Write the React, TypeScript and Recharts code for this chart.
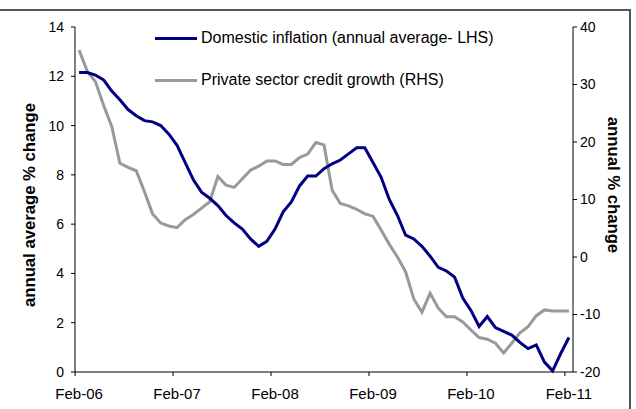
import React from "react";
import { Line, LineChart, XAxis, YAxis } from "recharts";

const tickLabels = ["Feb-06", "Feb-07", "Feb-08", "Feb-09", "Feb-10", "Feb-11"];
const tickIndex = [0, 12, 24, 36, 48, 60];

// Domestic inflation, annual average (LHS)
const inflation = [
  12.15, 12.15, 12.05, 11.85, 11.4, 11.05, 10.65, 10.4, 10.2, 10.15, 10.0, 9.65,
  9.2, 8.5, 7.8, 7.3, 7.05, 6.75, 6.35, 6.05, 5.8, 5.4, 5.1, 5.3,
  5.8, 6.5, 6.9, 7.55, 7.95, 7.95, 8.25, 8.45, 8.6, 8.85, 9.1, 9.1,
  8.5, 7.9, 7.0, 6.35, 5.55, 5.4, 5.1, 4.7, 4.25, 4.1, 3.85, 3.0,
  2.5, 1.85, 2.25, 1.8, 1.65, 1.5, 1.2, 0.95, 1.1, 0.4, 0.05, 0.75,
  1.4,
];

// Private sector credit growth (RHS)
const creditGrowth = [
  36, 32.3, 30.5, 26.4, 22.7, 16.3, 15.6, 15.0, 11.4, 7.5, 5.9, 5.4,
  5.1, 6.5, 7.4, 8.5, 9.6, 14.0, 12.5, 12.1, 13.6, 15.1, 15.8, 16.7,
  16.7, 16.1, 16.1, 17.3, 17.9, 19.9, 19.5, 11.6, 9.3, 8.9, 8.3, 7.5,
  7.1, 4.7, 2.2, 0, -2.6, -7.3, -9.6, -6.3, -8.9, -10.4, -10.4, -11.3,
  -12.7, -14.0, -14.3, -15.0, -16.7, -15.0, -13.2, -12.1, -10.2, -9.2, -9.4, -9.4,
  -9.4,
];

const data = inflation.map((v, i) => ({ i, inflation: v, credit: creditGrowth[i] }));

const BLUE = "#000080";
const GREY = "#999999";
const FONT = "'Liberation Sans', Arial, sans-serif";

function MonthTick(props: any) {
  const { x, y, payload } = props;
  const label = tickLabels[tickIndex.indexOf(payload.value)];
  // excel puts the tick mark on the category boundary, label on the centre
  return (
    <g>
      <line x1={x - 4} x2={x - 4} y1={y - 4} y2={y} stroke="#000" />
      <text x={x} y={y + 23} textAnchor="middle" fontSize={15} fill="#000" fontFamily={FONT}>
        {label}
      </text>
    </g>
  );
}

export default function App() {
  return (
    <div
      style={{
        position: "absolute",
        left: 0,
        top: 0,
        width: 636,
        height: 409,
        background: "#fff",
        fontFamily: FONT,
        overflow: "hidden",
      }}
    >
      <div
        style={{
          position: "absolute",
          left: -4,
          top: 9,
          width: 635,
          height: 420,
          borderTop: "2px solid #555",
          borderRight: "2px solid #555",
          boxSizing: "border-box",
        }}
      />
      <LineChart width={636} height={409} data={data} margin={{ top: 27, right: 0, bottom: 0, left: 0 }}>
        <XAxis
          type="number"
          dataKey="i"
          domain={[-0.5, 60.5]}
          ticks={tickIndex}
          tick={<MonthTick />}
          tickLine={false}
          tickSize={4}
          tickMargin={0}
          height={37}
          axisLine={{ stroke: "#000" }}
          interval={0}
        />
        <YAxis
          yAxisId="left"
          domain={[0, 14]}
          ticks={[0, 2, 4, 6, 8, 10, 12, 14]}
          width={75}
          tickSize={4}
          tickMargin={7}
          axisLine={{ stroke: "#000" }}
          tickLine={{ stroke: "#000" }}
          tick={{ fontSize: 14, fill: "#000", fontFamily: FONT }}
          interval={0}
        />
        <YAxis
          yAxisId="right"
          orientation="right"
          domain={[-20, 40]}
          ticks={[-20, -10, 0, 10, 20, 30, 40]}
          width={63}
          tickSize={4}
          tickMargin={3}
          axisLine={{ stroke: "#000" }}
          tickLine={{ stroke: "#000" }}
          tick={{ fontSize: 14, fill: "#000", fontFamily: FONT, textAnchor: "start" }}
          interval={0}
        />
        <Line
          yAxisId="right"
          type="linear"
          dataKey="credit"
          stroke={GREY}
          strokeWidth={3}
          dot={false}
          isAnimationActive={false}
        />
        <Line
          yAxisId="left"
          type="linear"
          dataKey="inflation"
          stroke={BLUE}
          strokeWidth={3}
          dot={false}
          isAnimationActive={false}
        />
      </LineChart>

      {[
        { label: "Domestic inflation (annual average- LHS)", color: BLUE, y: 38 },
        { label: "Private sector credit growth (RHS)", color: GREY, y: 80 },
      ].map((item) => (
        <div
          key={item.label}
          style={{ position: "absolute", left: 155, top: item.y - 10, height: 20, display: "flex", alignItems: "center" }}
        >
          <div style={{ width: 42, height: 3, background: item.color, marginRight: 4 }} />
          <span style={{ fontSize: 16, color: "#000", whiteSpace: "nowrap" }}>{item.label}</span>
        </div>
      ))}

      <div
        style={{
          position: "absolute",
          left: 30,
          top: 205,
          transform: "translate(-50%, -50%) rotate(-90deg)",
          fontSize: 16.7,
          fontWeight: "bold",
          whiteSpace: "nowrap",
        }}
      >
        annual average % change
      </div>
      <div
        style={{
          position: "absolute",
          left: 613,
          top: 185,
          transform: "translate(-50%, -50%) rotate(90deg)",
          fontSize: 16.7,
          fontWeight: "bold",
          whiteSpace: "nowrap",
        }}
      >
        annual % change
      </div>
    </div>
  );
}
